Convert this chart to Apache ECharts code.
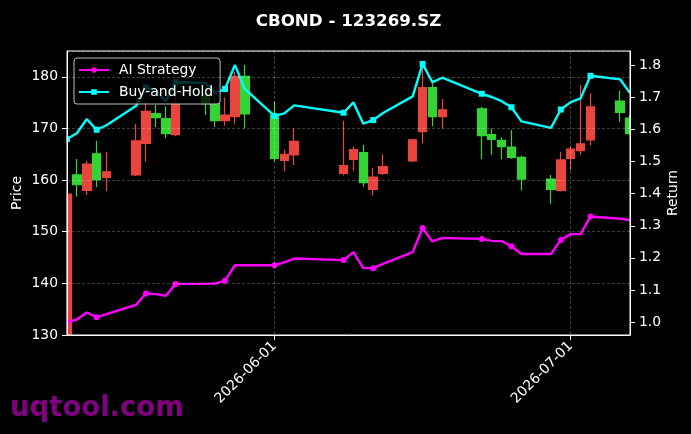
<!DOCTYPE html>
<html><head><meta charset="utf-8">
<script src="https://cdn.jsdelivr.net/npm/echarts@6/dist/echarts.min.js"></script>
<style>html,body{margin:0;padding:0;background:#000;}#c{width:691px;height:434px;}</style>
</head><body><div id="c"></div>
<script>
const dates = ['2026-05-11','2026-05-12','2026-05-13','2026-05-14','2026-05-15','2026-05-18','2026-05-19','2026-05-20','2026-05-21','2026-05-22','2026-05-25','2026-05-26','2026-05-27','2026-05-28','2026-05-29','2026-06-01','2026-06-02','2026-06-03','2026-06-08','2026-06-09','2026-06-10','2026-06-11','2026-06-12','2026-06-15','2026-06-16','2026-06-17','2026-06-18','2026-06-22','2026-06-23','2026-06-24','2026-06-25','2026-06-26','2026-06-29','2026-06-30','2026-07-01','2026-07-02','2026-07-03','2026-07-06','2026-07-07'];
const openP  = [130.0,161.0,158.0,165.1,160.5,161.0,167.1,172.9,171.9,168.8,176.8,174.8,171.5,172.3,180.1,172.6,163.8,164.9,161.3,164.0,165.3,158.2,161.3,163.7,169.4,177.9,172.3,173.8,168.8,167.7,166.4,164.4,160.2,158.0,164.2,165.7,167.8,175.3,172.0];
const closeP = [157.3,159.1,163.1,160.1,161.6,167.6,173.3,172.1,169.0,174.9,174.8,171.5,172.6,180.1,172.8,164.2,165.0,167.5,162.8,165.9,159.5,160.6,162.6,167.8,177.9,172.3,173.6,168.6,167.9,166.5,164.4,160.2,158.2,163.9,166.0,167.0,174.2,173.1,169.0];
const lowP   = [130.0,156.8,157.1,158.6,157.9,160.8,163.6,170.3,168.1,168.5,172.6,170.3,170.5,170.9,170.0,163.6,161.7,162.9,160.9,161.8,158.7,157.0,161.0,163.5,167.1,170.4,170.0,164.1,164.9,164.1,164.1,158.0,155.4,157.8,162.0,164.9,166.7,171.3,168.8];
const highP  = [157.3,164.1,163.7,167.6,165.5,170.9,175.5,174.6,174.3,177.0,177.8,176.0,176.0,181.0,182.3,175.2,165.9,170.0,171.5,166.5,166.8,162.4,165.0,167.9,182.0,178.8,175.7,174.2,170.0,168.3,169.7,164.7,161.0,165.5,166.5,178.4,176.8,177.3,172.6];
const aiReturn = [1.000,1.008,1.030,1.015,1.025,1.054,1.089,1.087,1.082,1.119,1.119,1.120,1.129,1.177,1.177,1.177,1.186,1.198,1.193,1.218,1.168,1.168,1.181,1.218,1.293,1.251,1.262,1.259,1.253,1.252,1.236,1.212,1.212,1.256,1.274,1.274,1.329,1.322,1.317];
const bhReturn = [1.570,1.588,1.632,1.599,1.613,1.674,1.731,1.719,1.688,1.747,1.745,1.713,1.726,1.801,1.726,1.642,1.650,1.675,1.652,1.684,1.618,1.629,1.651,1.703,1.804,1.747,1.761,1.711,1.701,1.688,1.669,1.625,1.605,1.662,1.685,1.697,1.767,1.756,1.713];
const xTickDates = ['2026-06-01','2026-07-01'];
const leftTicks = [130,140,150,160,170,180];
const rightTicks = [1.0,1.1,1.2,1.3,1.4,1.5,1.6,1.7,1.8];

function ts(s){ const p = s.split('-').map(Number); return new Date(p[0], p[1]-1, p[2]).getTime(); }
function pad(n){ return (n<10?'0':'') + n; }
function fmtDate(v){ const d = new Date(v); return d.getFullYear() + '-' + pad(d.getMonth()+1) + '-' + pad(d.getDate()); }

const FONT = 'DejaVu Sans';
const RED = '#e8453f', GREEN = '#35d435';
const candleData = dates.map((d,i)=>[ts(d), openP[i], closeP[i], lowP[i], highP[i]]);
const aiData = dates.map((d,i)=>({value:[ts(d), aiReturn[i]], symbol: i%3===0 ? 'circle' : 'none'}));
const bhData = dates.map((d,i)=>({value:[ts(d), bhReturn[i]], symbol: i%3===0 ? 'rect' : 'none'}));
const gridDash = {color:'rgba(255,255,255,0.3)', width:0.8, type:[3,2]};

const GL = 67, GR = 61, GT = 51, GB = 99, W = 691, H = 434;
const chart = echarts.init(document.getElementById('c'), null, {renderer:'canvas'});
chart.setOption({
  backgroundColor:'#000',
  animation:false,
  title:{text:'CBOND - 123269.SZ', left:343.5, top:8, textAlign:'center',
    textStyle:{color:'#fff', fontFamily:FONT, fontWeight:'bold', fontSize:16.7}},
  legend:{
    data:['AI Strategy','Buy-and-Hold'], orient:'vertical', left:74, top:58,
    itemWidth:30, itemHeight:7, itemGap:6, padding:[4,7,4,4],
    backgroundColor:'rgba(0,0,0,0.8)', borderColor:'#bbbbbb', borderWidth:1, borderRadius:3,
    textStyle:{color:'#fff', fontFamily:FONT, fontSize:13.9, lineHeight:16, padding:[0,0,0,5]}
  },
  grid:{left:GL, right:GR, top:GT, bottom:GB, containLabel:false, outerBoundsMode:'none',
    show:true, borderColor:'#fff', borderWidth:1, backgroundColor:'transparent', z:10},
  xAxis:{
    type:'value', min:ts(dates[0]), max:ts(dates[dates.length-1]), scale:true, z:10,
    axisLine:{show:true, onZero:false, lineStyle:{color:'#fff', width:1}},
    axisTick:{show:true, length:5, lineStyle:{color:'#fff'}, customValues:xTickDates.map(ts)},
    axisLabel:{color:'#fff', fontFamily:FONT, fontSize:13.9, rotate:45, margin:9,
      customValues:xTickDates.map(ts), formatter:fmtDate},
    splitLine:{show:true, lineStyle:gridDash}
  },
  yAxis:[{
    type:'value', position:'left', min:leftTicks[0], max:185, interval:10, z:10,
    name:'Price', nameLocation:'middle', nameGap:43, nameRotate:90, nameMoveOverlap:false,
    nameTextStyle:{color:'#fff', fontFamily:FONT, fontSize:13.9},
    axisLine:{show:true, lineStyle:{color:'#fff'}},
    axisTick:{show:true, length:5, lineStyle:{color:'#fff'}},
    axisLabel:{color:'#fff', fontFamily:FONT, fontSize:13.9, margin:9, showMaxLabel:false},
    splitLine:{show:true, lineStyle:gridDash}
  },{
    type:'value', position:'right', min:0.9598, max:1.8442, z:10,
    name:'Return', nameLocation:'middle', nameGap:36, nameRotate:90, nameMoveOverlap:false,
    nameTextStyle:{color:'#fff', fontFamily:FONT, fontSize:13.9},
    axisLine:{show:true, lineStyle:{color:'#fff'}},
    axisTick:{show:true, length:5, lineStyle:{color:'#fff'}, customValues:rightTicks},
    axisLabel:{color:'#fff', fontFamily:FONT, fontSize:13.9, margin:9, customValues:rightTicks,
      formatter:v=>Number(v).toFixed(1)},
    splitLine:{show:false}
  }],
  graphic:[
    {type:'rect', z:5, silent:true, shape:{x:0, y:GT-2, width:GL-0.5, height:H-GT-GB+4}, style:{fill:'#000'}},
    {type:'rect', z:5, silent:true, shape:{x:W-GR+0.5, y:GT-2, width:GR, height:H-GT-GB+4}, style:{fill:'#000'}},
    {type:'text', left:10, top:395, z:100,
      style:{text:'uqtool.com', font:'bold 27.5px "DejaVu Sans"', fill:'#800080'}}
  ],
  series:[{
    type:'candlestick', name:'Price', xAxisIndex:0, yAxisIndex:0, data:candleData,
    encode:{x:0, y:[1,2,3,4]}, barWidth:9, clip:true,
    itemStyle:{color:RED, color0:GREEN, borderColor:RED, borderColor0:GREEN, borderWidth:1.2}
  },{
    type:'line', name:'AI Strategy', yAxisIndex:1, data:aiData, symbol:'circle', symbolSize:6,
    lineStyle:{color:'#ff00ff', width:2.4}, itemStyle:{color:'#ff00ff'}, clip:true
  },{
    type:'line', name:'Buy-and-Hold', yAxisIndex:1, data:bhData, symbol:'rect', symbolSize:6,
    lineStyle:{color:'#00ffff', width:2.4}, itemStyle:{color:'#00ffff'}, clip:true
  }]
});
</script></body></html>
